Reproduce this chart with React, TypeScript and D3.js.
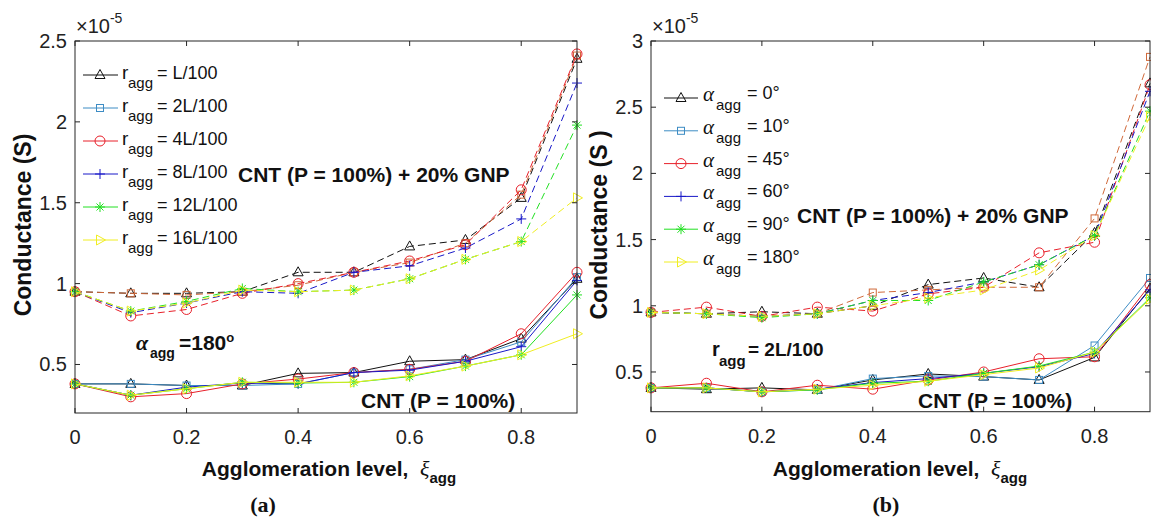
import React from 'react';
import * as d3 from 'd3';

// ---------- data ----------
const xi = [0, 0.1, 0.2, 0.3, 0.4, 0.5, 0.6, 0.7, 0.8, 0.9];
const xTicks = [0, 0.2, 0.4, 0.6, 0.8];
const xTickLabels = ['0', '0.2', '0.4', '0.6', '0.8'];
const yTicksA = [0.5, 1, 1.5, 2, 2.5];
const yTickLabelsA = ['0.5', '1', '1.5', '2', '2.5'];
const yTicksB = [0.5, 1, 1.5, 2, 2.5, 3];
const yTickLabelsB = ['0.5', '1', '1.5', '2', '2.5', '3'];

const legendA = ['= L/100', '= 2L/100', '= 4L/100', '= 8L/100', '= 12L/100', '= 16L/100'];
const legendB = ['= 0°', '= 10°', '= 45°', '= 60°', '= 90°', '= 180°'];

// (a) CNT only, solid lines (x10^-5 S)
const cntA_L1 = [0.38, 0.38, 0.37, 0.37, 0.445, 0.45, 0.52, 0.53, 0.66, 1.03];
const cntA_L2 = [0.38, 0.38, 0.37, 0.37, 0.38, 0.45, 0.47, 0.53, 0.64, 1.04];
const cntA_L4 = [0.38, 0.30, 0.32, 0.38, 0.41, 0.45, 0.47, 0.52, 0.69, 1.07];
const cntA_L8 = [0.38, 0.31, 0.36, 0.385, 0.38, 0.45, 0.465, 0.52, 0.61, 1.02];
const cntA_L12 = [0.38, 0.31, 0.35, 0.39, 0.385, 0.39, 0.425, 0.49, 0.56, 0.93];
const cntA_L16 = [0.38, 0.31, 0.35, 0.39, 0.39, 0.39, 0.43, 0.49, 0.56, 0.69];

// (a) CNT + 20% GNP, dashed lines
const gnpA_L1 = [0.95, 0.94, 0.94, 0.95, 1.07, 1.07, 1.23, 1.27, 1.53, 2.39];
const gnpA_L2 = [0.95, 0.94, 0.93, 0.95, 0.99, 1.07, 1.13, 1.25, 1.55, 2.41];
const gnpA_L4 = [0.95, 0.80, 0.84, 0.94, 1.00, 1.07, 1.14, 1.24, 1.58, 2.42];
const gnpA_L8 = [0.95, 0.82, 0.88, 0.95, 0.94, 1.07, 1.11, 1.22, 1.40, 2.24];
const gnpA_L12 = [0.95, 0.83, 0.89, 0.97, 0.95, 0.96, 1.03, 1.15, 1.26, 1.98];
const gnpA_L16 = [0.95, 0.83, 0.88, 0.96, 0.95, 0.96, 1.03, 1.15, 1.26, 1.53];

// (b) CNT only, solid lines
const cntB_0 = [0.38, 0.37, 0.38, 0.365, 0.44, 0.485, 0.465, 0.44, 0.61, 1.13];
const cntB_10 = [0.38, 0.38, 0.35, 0.365, 0.45, 0.47, 0.465, 0.44, 0.70, 1.21];
const cntB_45 = [0.38, 0.415, 0.35, 0.40, 0.37, 0.44, 0.50, 0.60, 0.615, 1.16];
const cntB_60 = [0.38, 0.38, 0.35, 0.37, 0.42, 0.45, 0.49, 0.54, 0.64, 1.12];
const cntB_90 = [0.38, 0.38, 0.35, 0.365, 0.415, 0.43, 0.49, 0.545, 0.65, 1.06];
const cntB_180 = [0.38, 0.38, 0.35, 0.37, 0.40, 0.43, 0.48, 0.53, 0.65, 1.05];

// (b) CNT + 20% GNP, dashed lines
const gnpB_0 = [0.95, 0.94, 0.955, 0.94, 1.0, 1.16, 1.21, 1.14, 1.55, 2.68];
const gnpB_10 = [0.95, 0.94, 0.92, 0.94, 1.10, 1.12, 1.14, 1.14, 1.66, 2.88];
const gnpB_45 = [0.95, 0.99, 0.92, 0.99, 0.96, 1.09, 1.14, 1.40, 1.48, 2.67];
const gnpB_60 = [0.95, 0.94, 0.92, 0.94, 1.04, 1.10, 1.18, 1.31, 1.53, 2.62];
const gnpB_90 = [0.95, 0.94, 0.91, 0.94, 1.04, 1.04, 1.18, 1.31, 1.53, 2.47];
const gnpB_180 = [0.95, 0.94, 0.92, 0.94, 1.0, 1.06, 1.12, 1.27, 1.53, 2.43];

const markerTypes = ['triUp', 'square', 'circle', 'plus', 'star', 'triRight'];
const solidColors = ['#111111', '#3D8CC4', '#E8202A', '#1818C8', '#22E022', '#F0EE22'];
const dashColors = ['#111111', '#D0693A', '#E8202A', '#1818C8', '#22E022', '#F0EE22'];

const SANS = '"Liberation Sans", Arial, Helvetica, sans-serif';
const SERIF = '"Liberation Serif", "Times New Roman", serif';
const AX = '#262626';

function Marker({ type, x, y, color }: { type: string; x: number; y: number; color: string }) {
  const p = { fill: 'none', stroke: color, strokeWidth: 1 };
  switch (type) {
    case 'triUp':
      return <polygon {...p} points={`${x},${y - 5.5} ${x - 5},${y + 3.5} ${x + 5},${y + 3.5}`} />;
    case 'square':
      return <rect {...p} x={x - 3.5} y={y - 3.5} width={7} height={7} />;
    case 'circle':
      return <circle {...p} cx={x} cy={y} r={5} />;
    case 'plus':
      return <path {...p} d={`M${x - 5},${y}H${x + 5}M${x},${y - 5}V${y + 5}`} />;
    case 'star':
      return (
        <path
          {...p}
          d={`M${x - 5},${y}H${x + 5}M${x},${y - 5}V${y + 5}M${x - 3.5},${y - 3.5}L${x + 3.5},${y + 3.5}M${x - 3.5},${y + 3.5}L${x + 3.5},${y - 3.5}`}
        />
      );
    case 'triRight':
      return <polygon {...p} points={`${x + 5.5},${y} ${x - 3.5},${y - 5} ${x - 3.5},${y + 5}`} />;
    default:
      return null;
  }
}

type PanelProps = {
  left: number;
  right: number;
  top: number;
  bottom: number;
  yMin: number;
  yMax: number;
  yTicks: number[];
  yTickLabels: string[];
  solid: number[][];
  dashed: number[][];
  clipId: string;
};

function Panel(props: PanelProps) {
  const { left, right, top, bottom, yMin, yMax, yTicks, yTickLabels, solid, dashed, clipId } = props;
  const x = d3.scaleLinear().domain([0, 0.9]).range([left, right]);
  const y = d3.scaleLinear().domain([yMin, yMax]).range([bottom, top]);
  const line = d3
    .line<number>()
    .x((_, i) => x(xi[i]))
    .y((d) => y(d));
  const tl = 5;
  return (
    <g>
      <defs>
        <clipPath id={clipId}>
          <rect x={left - 8} y={top - 8} width={right - left + 16} height={bottom - top + 16} />
        </clipPath>
      </defs>
      <g clipPath={`url(#${clipId})`}>
        {dashed.map((s, k) => (
          <g key={'d' + k}>
            <path d={line(s) || ''} fill="none" stroke={dashColors[k]} strokeWidth={1} strokeDasharray="7,4" />
            {s.map((v, i) => (
              <Marker key={i} type={markerTypes[k]} x={x(xi[i])} y={y(v)} color={dashColors[k]} />
            ))}
          </g>
        ))}
        {solid.map((s, k) => (
          <g key={'s' + k}>
            <path d={line(s) || ''} fill="none" stroke={solidColors[k]} strokeWidth={1} />
            {s.map((v, i) => (
              <Marker key={i} type={markerTypes[k]} x={x(xi[i])} y={y(v)} color={solidColors[k]} />
            ))}
          </g>
        ))}
      </g>
      {/* box */}
      <rect x={left} y={top} width={right - left} height={bottom - top} fill="none" stroke={AX} strokeWidth={1} />
      {xTicks.map((t, i) => (
        <g key={'xt' + i}>
          <line x1={x(t)} x2={x(t)} y1={bottom} y2={bottom - tl} stroke={AX} />
          <line x1={x(t)} x2={x(t)} y1={top} y2={top + tl} stroke={AX} />
          <text x={x(t)} y={bottom + 31} textAnchor="middle" fontFamily={SANS} fontSize={20} fill="#222">
            {xTickLabels[i]}
          </text>
        </g>
      ))}
      {yTicks.map((t, i) => (
        <g key={'yt' + i}>
          <line x1={left} x2={left + tl} y1={y(t)} y2={y(t)} stroke={AX} />
          <line x1={right} x2={right - tl} y1={y(t)} y2={y(t)} stroke={AX} />
          <text x={left - 8} y={y(t) + 7} textAnchor="end" fontFamily={SANS} fontSize={20} fill="#222">
            {yTickLabels[i]}
          </text>
        </g>
      ))}
      <text x={left + 1} y={33} fontFamily={SANS} fontSize={20} fill="#222">
        ×10
        <tspan fontSize={14} dy={-10}>-5</tspan>
      </text>
    </g>
  );
}

function XLabel({ cx }: { cx: number }) {
  return (
    <text x={cx} y={476} textAnchor="middle" fontFamily={SANS} fontSize={21} fontWeight="bold" fill="#111">
      Agglomeration level,{'\u00A0\u00A0'}
      <tspan fontFamily={SERIF} fontStyle="italic" fontWeight="normal" fontSize={22}>ξ</tspan>
      <tspan fontSize={15} dy={7}>agg</tspan>
    </text>
  );
}

export default function App() {
  const rowA = (i: number) => 75 + i * 33;
  const rowB = (i: number) => 98 + i * 32.8;
  return (
    <div style={{ position: 'absolute', left: 0, top: 0 }}>
      <svg width={1151} height={521} style={{ display: 'block', background: '#fff' }}>
        <rect width={1151} height={521} fill="#fff" />
        <Panel
          left={75}
          right={577}
          top={41}
          bottom={413}
          yMin={0.2}
          yMax={2.5}
          yTicks={yTicksA}
          yTickLabels={yTickLabelsA}
          solid={[cntA_L1, cntA_L2, cntA_L4, cntA_L8, cntA_L12, cntA_L16]}
          dashed={[gnpA_L1, gnpA_L2, gnpA_L4, gnpA_L8, gnpA_L12, gnpA_L16]}
          clipId="clipA"
        />
        <Panel
          left={651}
          right={1150}
          top={41}
          bottom={411.7}
          yMin={0.2}
          yMax={3}
          yTicks={yTicksB}
          yTickLabels={yTickLabelsB}
          solid={[cntB_0, cntB_10, cntB_45, cntB_60, cntB_90, cntB_180]}
          dashed={[gnpB_0, gnpB_10, gnpB_45, gnpB_60, gnpB_90, gnpB_180]}
          clipId="clipB"
        />

        {/* legend (a) */}
        {legendA.map((t, i) => (
          <g key={'la' + i}>
            <line x1={83} x2={118} y1={rowA(i)} y2={rowA(i)} stroke={solidColors[i]} strokeWidth={1} />
            <Marker type={markerTypes[i]} x={100} y={rowA(i)} color={solidColors[i]} />
            <text x={122} y={rowA(i) + 4} fontFamily={SANS} fontSize={19} fill="#111">r</text>
            <text x={128} y={rowA(i) + 13} fontFamily={SANS} fontSize={15} fill="#111">agg</text>
            <text x={157} y={rowA(i) + 4} fontFamily={SANS} fontSize={18} fill="#111">{t}</text>
          </g>
        ))}
        {/* legend (b) */}
        {legendB.map((t, i) => (
          <g key={'lb' + i}>
            <line x1={664} x2={698} y1={rowB(i)} y2={rowB(i)} stroke={solidColors[i]} strokeWidth={1} />
            <Marker type={markerTypes[i]} x={681} y={rowB(i)} color={solidColors[i]} />
            <text x={703} y={rowB(i) + 3} fontFamily={SERIF} fontStyle="italic" fontSize={21} fill="#111">α</text>
            <text x={716} y={rowB(i) + 12} fontFamily={SANS} fontSize={15} fill="#111">agg</text>
            <text x={747} y={rowB(i) + 1} fontFamily={SANS} fontSize={18} fill="#111">{t}</text>
          </g>
        ))}

        {/* annotations (a) */}
        <text x={238} y={182} fontFamily={SANS} fontSize={21} fontWeight="bold" fill="#111">
          CNT (P = 100%) + 20% GNP
        </text>
        <text x={136} y={350} fontFamily={SERIF} fontStyle="italic" fontWeight="bold" fontSize={22} fill="#111">α</text>
        <text x={150} y={358} fontFamily={SANS} fontWeight="bold" fontSize={14} fill="#111">agg</text>
        <text x={179} y={350} fontFamily={SANS} fontWeight="bold" fontSize={21} fill="#111">
          =180
          <tspan fontSize={13} dy={-8}>o</tspan>
        </text>
        <text x={361} y={408} fontFamily={SANS} fontSize={21} fontWeight="bold" fill="#111">
          CNT (P = 100%)
        </text>

        {/* annotations (b) */}
        <text x={797} y={223} fontFamily={SANS} fontSize={21} fontWeight="bold" fill="#111">
          CNT (P = 100%) + 20% GNP
        </text>
        <text x={712} y={356} fontFamily={SANS} fontWeight="bold" fontSize={20} fill="#111">r</text>
        <text x={719} y={366} fontFamily={SANS} fontWeight="bold" fontSize={15} fill="#111">agg</text>
        <text x={748} y={356} fontFamily={SANS} fontWeight="bold" fontSize={19} fill="#111">= 2L/100</text>
        <text x={918} y={408} fontFamily={SANS} fontSize={21} fontWeight="bold" fill="#111">
          CNT (P = 100%)
        </text>

        {/* axis labels */}
        <text
          transform="translate(31,225) rotate(-90)"
          textAnchor="middle"
          fontFamily={SANS}
          fontSize={23}
          fontWeight="bold"
          fill="#111"
        >
          Conductance (S)
        </text>
        <text
          transform="translate(607,225) rotate(-90)"
          textAnchor="middle"
          fontFamily={SANS}
          fontSize={23}
          fontWeight="bold"
          fill="#111"
        >
          Conductance (S )
        </text>
        <XLabel cx={329} />
        <XLabel cx={900} />
        <text x={263} y={512} textAnchor="middle" fontFamily={SERIF} fontWeight="bold" fontSize={22} fill="#111">(a)</text>
        <text x={886} y={512} textAnchor="middle" fontFamily={SERIF} fontWeight="bold" fontSize={22} fill="#111">(b)</text>
      </svg>
    </div>
  );
}
